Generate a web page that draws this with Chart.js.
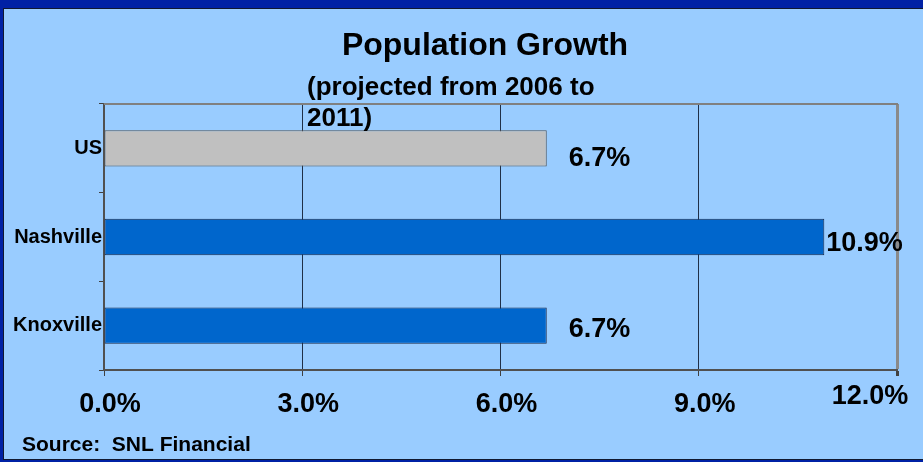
<!DOCTYPE html>
<html>
<head>
<meta charset="utf-8">
<script src="https://cdn.jsdelivr.net/npm/chart.js@4/dist/chart.umd.min.js"></script>
<style>
  html, body { margin: 0; padding: 0; background: #0021A5; }
  #wrap { position: relative; width: 923px; height: 462px; }
</style>
</head>
<body>
<div id="wrap"><canvas id="c" width="923" height="462"></canvas></div>
<script>
// Population growth, projected 2006 to 2011 (%)
const categories = ['US', 'Nashville', 'Knoxville'];
const growth = [6.7, 10.9, 6.7];
const xTicks = [0, 3, 6, 9, 12];
const titleText = 'Population Growth';
const subtitleLines = ['(projected from 2006 to', '2011)'];
const sourceText = 'Source:  SNL Financial';

const barFill = ['#C0C0C0', '#0066CC', '#0066CC'];
const barEdge = ['#555555', '#1B2B4B', '#1B2B4B'];
const labelShift = [[22, 10], [2, 7], [22, 4]];

const SANS = '"Liberation Sans", Arial, sans-serif';

// frame, plot border, texts and value labels
const decor = {
  id: 'decor',
  beforeDraw(chart) {
    const ctx = chart.ctx;
    ctx.save();
    ctx.fillStyle = '#0021A5';
    ctx.fillRect(0, 0, 923, 462);
    ctx.fillStyle = '#101830';
    ctx.fillRect(3, 8, 920, 452);
    ctx.fillStyle = '#99CCFF';
    ctx.fillRect(4, 9, 919, 450);
    ctx.restore();
  },
  afterDraw(chart) {
    const ctx = chart.ctx;
    const a = chart.chartArea;
    const xs = chart.scales.x;
    ctx.save();
    // top border of plot
    ctx.strokeStyle = '#808080';
    ctx.lineWidth = 2;
    ctx.beginPath();
    ctx.moveTo(a.left, a.top);
    ctx.lineTo(a.right + 1, a.top);
    ctx.stroke();

    ctx.fillStyle = '#000';
    ctx.textBaseline = 'middle';
    ctx.textAlign = 'center';
    ctx.font = 'bold 32px ' + SANS;
    ctx.fillText(titleText, 485, 46);

    ctx.textAlign = 'left';
    ctx.font = 'bold 26px ' + SANS;
    ctx.fillText(subtitleLines[0], 307, 88);
    ctx.fillText(subtitleLines[1], 307, 119);

    ctx.font = 'bold 21px ' + SANS;
    ctx.fillText(sourceText, 22, 445);

    // last axis label sits a little left and up
    ctx.textAlign = 'center';
    ctx.font = 'bold 27px ' + SANS;
    ctx.fillText(xTicks[xTicks.length - 1].toFixed(1) + '%', xs.getPixelForValue(12) - 27, 397);

    // value labels
    const meta = chart.getDatasetMeta(0);
    ctx.textAlign = 'left';
    ctx.font = 'bold 27px ' + SANS;
    meta.data.forEach((bar, i) => {
      ctx.fillText(growth[i].toFixed(1) + '%', bar.x + labelShift[i][0], bar.y + labelShift[i][1]);
    });
    ctx.restore();
  }
};

new Chart(document.getElementById('c'), {
  type: 'bar',
  data: {
    labels: categories,
    datasets: [{
      data: growth,
      backgroundColor: barFill,
      borderColor: barEdge,
      borderWidth: 1,
      borderSkipped: false,
      categoryPercentage: 1,
      barPercentage: 0.41
    }]
  },
  options: {
    indexAxis: 'y',
    responsive: false,
    animation: false,
    events: [],
    layout: { padding: { top: 104, right: 26, bottom: 0, left: 4 } },
    plugins: { legend: { display: false }, title: { display: false }, tooltip: { enabled: false } },
    scales: {
      x: {
        min: 0, max: 12,
        afterBuildTicks(s) { s.ticks = xTicks.map(v => ({ value: v })); },
        afterFit(s) { s.height = 92; },
        border: { display: true, color: '#505050', width: 2 },
        grid: {
          color: c => c.tick && c.tick.value === 12 ? '#8A8A8A' : (c.tick && c.tick.value === 0 ? 'rgba(0,0,0,0)' : '#203048'),
          lineWidth: c => c.tick && c.tick.value === 12 ? 3 : 1,
          tickColor: '#404040',
          tickLength: 6,
          drawTicks: true
        },
        ticks: {
          color: '#000',
          font: { family: SANS, size: 27, weight: 'bold' },
          padding: 12,
          labelOffset: 6,
          maxRotation: 0,
          callback: v => v === 12 ? '' : Number(v).toFixed(1) + '%'
        }
      },
      y: {
        afterFit(s) { s.width = 100; },
        border: { display: true, color: '#505050', width: 2 },
        grid: {
          offset: true,
          drawOnChartArea: false,
          tickColor: '#404040',
          tickLength: 5
        },
        ticks: {
          color: '#000',
          font: { family: SANS, size: 20, weight: 'bold' },
          padding: -3
        }
      }
    }
  },
  plugins: [decor]
});
</script>
</body>
</html>
